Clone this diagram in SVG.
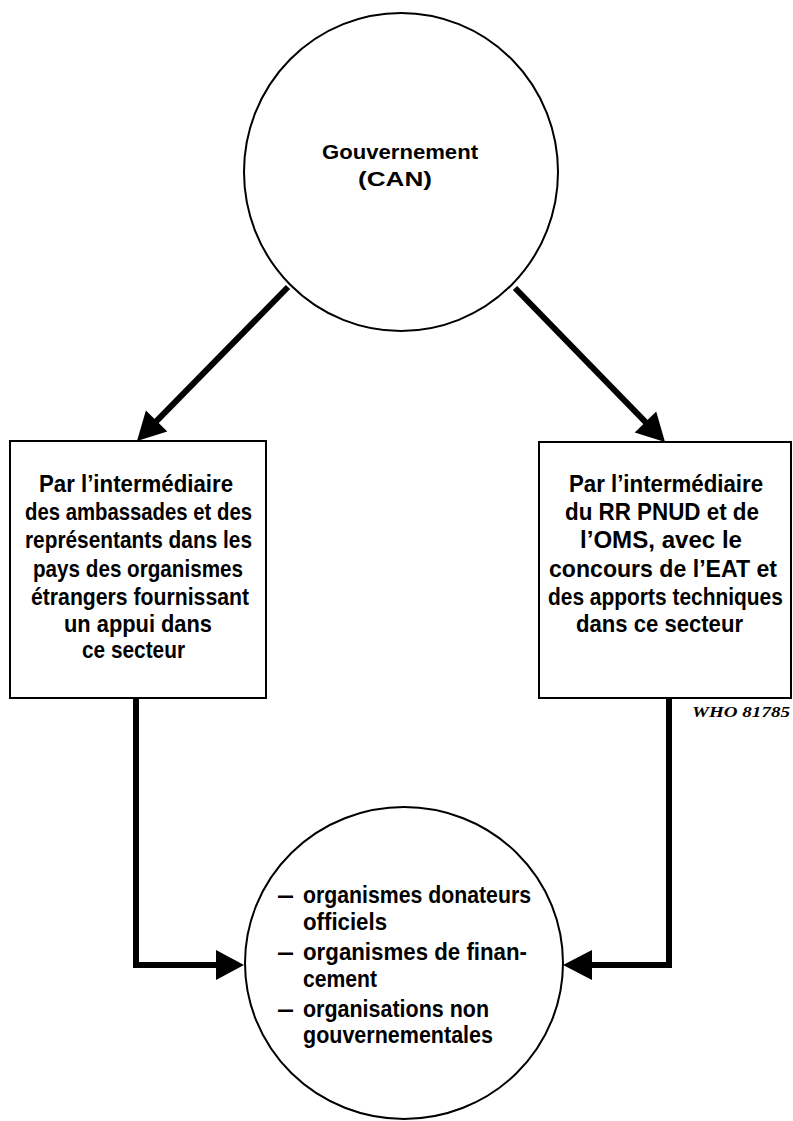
<svg xmlns="http://www.w3.org/2000/svg" width="793" height="1121" viewBox="0 0 793 1121">
<style>
.shape{fill:#fff;stroke:#000;stroke-width:2}
.t{font-family:"Liberation Sans",Arial,sans-serif;font-weight:bold;fill:#000}
.bx{font-size:24px}
.ci{font-size:23px}
.top{font-size:21px}
.conn{fill:none;stroke:#000;stroke-width:6;stroke-linejoin:miter;stroke-linecap:butt}
.head{fill:#000;stroke:none}
.ref{font-family:"Liberation Serif","Times New Roman",serif;font-weight:bold;font-style:italic;font-size:14px;fill:#000}
</style>
<rect width="793" height="1121" fill="#fff"/>
<g id="gouvernement">
<ellipse class="shape" cx="401" cy="172" rx="157" ry="159"/>
<text class="t top" x="322" y="159" textLength="156" lengthAdjust="spacingAndGlyphs">Gouvernement</text>
<text class="t top" x="358" y="186" textLength="74" lengthAdjust="spacingAndGlyphs">(CAN)</text>
</g>
<g id="ambassades">
<rect class="shape" x="10" y="441" width="256" height="257"/>
<text class="t bx" x="39" y="492" textLength="194" lengthAdjust="spacingAndGlyphs">Par l’intermédiaire</text>
<text class="t bx" x="25" y="520" textLength="227" lengthAdjust="spacingAndGlyphs">des ambassades et des</text>
<text class="t bx" x="25" y="548" textLength="227" lengthAdjust="spacingAndGlyphs">représentants dans les</text>
<text class="t bx" x="33" y="577" textLength="210" lengthAdjust="spacingAndGlyphs">pays des organismes</text>
<text class="t bx" x="31" y="605" textLength="218" lengthAdjust="spacingAndGlyphs">étrangers fournissant</text>
<text class="t bx" x="64" y="632" textLength="148" lengthAdjust="spacingAndGlyphs">un appui dans</text>
<text class="t bx" x="82" y="658" textLength="103" lengthAdjust="spacingAndGlyphs">ce secteur</text>
</g>
<g id="pnud">
<rect class="shape" x="539" y="442" width="252" height="256"/>
<text class="t bx" x="569" y="492" textLength="194" lengthAdjust="spacingAndGlyphs">Par l’intermédiaire</text>
<text class="t bx" x="565" y="520" textLength="194" lengthAdjust="spacingAndGlyphs">du RR PNUD et de</text>
<text class="t bx" x="580" y="548" textLength="162" lengthAdjust="spacingAndGlyphs">l’OMS, avec le</text>
<text class="t bx" x="549" y="577" textLength="228" lengthAdjust="spacingAndGlyphs">concours de l’EAT et</text>
<text class="t bx" transform="translate(548 605) scale(0.87 1)" x="0" y="0" textLength="270" lengthAdjust="spacingAndGlyphs">des apports techniques</text>
<text class="t bx" x="576" y="632" textLength="167" lengthAdjust="spacingAndGlyphs">dans ce secteur</text>
</g>
<text id="ref" class="ref" x="692" y="717" textLength="98" lengthAdjust="spacingAndGlyphs">WHO 81785</text>
<g id="organismes">
<ellipse class="shape" cx="404" cy="963" rx="159" ry="156"/>
<text class="t ci" x="278" y="903" textLength="15" lengthAdjust="spacingAndGlyphs">—</text>
<text class="t ci" x="303" y="903" textLength="228" lengthAdjust="spacingAndGlyphs">organismes donateurs</text>
<text class="t ci" x="303" y="930" textLength="84" lengthAdjust="spacingAndGlyphs">officiels</text>
<text class="t ci" x="278" y="960" textLength="15" lengthAdjust="spacingAndGlyphs">—</text>
<text class="t ci" x="303" y="960" textLength="224" lengthAdjust="spacingAndGlyphs">organismes de finan-</text>
<text class="t ci" x="303" y="987" textLength="74" lengthAdjust="spacingAndGlyphs">cement</text>
<text class="t ci" x="278" y="1017" textLength="15" lengthAdjust="spacingAndGlyphs">—</text>
<text class="t ci" x="303" y="1017" textLength="186" lengthAdjust="spacingAndGlyphs">organisations non</text>
<text class="t ci" x="303" y="1043" textLength="190" lengthAdjust="spacingAndGlyphs">gouvernementales</text>
</g>
<g id="connectors">
<path class="conn" d="M288,287 L149.6,428.1"/>
<polygon class="head" points="137,441 145.9,410.5 167.3,431.5"/>
<path class="conn" d="M515,288 L652.4,429.1"/>
<polygon class="head" points="665,442 656.2,411.5 634.7,432.5"/>
<path class="conn" d="M136,698 V965 H225"/>
<polygon class="head" points="244,965 216,950 216,980"/>
<path class="conn" d="M669,698 V965 H585"/>
<polygon class="head" points="563,965 592,950 592,980"/>
</g>
</svg>
